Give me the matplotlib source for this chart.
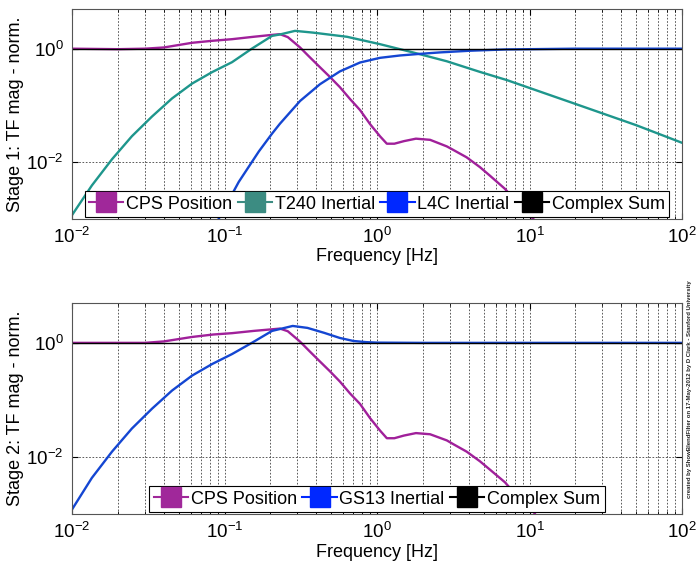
import matplotlib
matplotlib.use("Agg")
import matplotlib.pyplot as plt
from matplotlib.lines import Line2D
from matplotlib.ticker import LogLocator, NullLocator

plt.rcParams['font.family'] = ['Liberation Sans', 'DejaVu Sans']
plt.rcParams['mathtext.default'] = 'regular'

# ---------------- data ----------------
# Stage 1
s1_cps_f = [0.01, 0.02, 0.03, 0.04, 0.0613, 0.084, 0.112, 0.155, 0.205, 0.231, 0.26, 0.29, 0.313, 0.36,
            0.423, 0.49, 0.571, 0.665, 0.774, 0.9, 1.047, 1.16, 1.3, 1.5, 1.8, 2.23, 2.87, 3.16, 3.87,
            4.73, 5.5, 6.9, 8.5, 10.6, 13.0]
s1_cps_v = [1.0, 0.98, 1.0, 1.05, 1.27, 1.38, 1.47, 1.62, 1.75, 1.8, 1.6, 1.25, 1.05, 0.72,
            0.47, 0.32, 0.21, 0.13, 0.083, 0.047, 0.0286, 0.0212, 0.0212, 0.0235, 0.026, 0.0248, 0.019, 0.0165, 0.0122,
            0.0082, 0.0058, 0.0034, 0.0018, 0.001, 0.0005]

s1_t240_f = [0.01, 0.0135, 0.0183, 0.0247, 0.0335, 0.0453, 0.0613, 0.083, 0.112, 0.151, 0.205, 0.231,
             0.29, 0.38, 0.636, 1.047, 1.72, 2.87, 4.73, 7.1, 19.3, 50.0, 100.0]
s1_t240_v = [0.00117, 0.0039, 0.0113, 0.0287, 0.064, 0.133, 0.243, 0.387, 0.578, 1.0, 1.68, 1.78,
             2.06, 1.92, 1.62, 1.2, 0.86, 0.6, 0.39, 0.28, 0.11, 0.045, 0.022]

s1_l4c_f = [0.0915, 0.124, 0.168, 0.205, 0.231, 0.313, 0.423, 0.571, 0.774, 1.047, 1.42, 1.91, 2.59,
            4.07, 7.0, 20.0, 100.0]
s1_l4c_v = [0.001, 0.0045, 0.0155, 0.0319, 0.0477, 0.12, 0.237, 0.398, 0.571, 0.69, 0.76, 0.81, 0.86,
            0.92, 0.97, 1.0, 1.0]

s1_sum_f = [0.01, 100.0]
s1_sum_v = [1.0, 1.0]

# Stage 2
s2_cps_f = [0.01, 0.03, 0.04, 0.0613, 0.084, 0.112, 0.155, 0.205, 0.231, 0.26, 0.29, 0.313, 0.36,
            0.423, 0.49, 0.571, 0.665, 0.774, 0.9, 1.047, 1.16, 1.3, 1.5, 1.8, 2.23, 2.87, 3.16, 3.87,
            4.73, 5.5, 6.9, 8.5, 10.6, 13.0]
s2_cps_v = [1.0, 1.0, 1.06, 1.27, 1.4, 1.48, 1.62, 1.73, 1.78, 1.6, 1.25, 1.05, 0.72,
            0.47, 0.32, 0.21, 0.13, 0.085, 0.048, 0.029, 0.0213, 0.0213, 0.0237, 0.0262, 0.025, 0.0195, 0.0168, 0.0124,
            0.0084, 0.006, 0.0036, 0.0019, 0.0011, 0.0005]

s2_gs13_f = [0.01, 0.0135, 0.0183, 0.0247, 0.0335, 0.0453, 0.0613, 0.083, 0.112, 0.151, 0.205,
             0.28, 0.35, 0.45, 0.57, 0.7, 0.85, 1.0, 2.0, 100.0]
s2_gs13_v = [0.0012, 0.0043, 0.0124, 0.0315, 0.0703, 0.146, 0.267, 0.426, 0.636, 1.0, 1.62,
             1.98, 1.83, 1.5, 1.22, 1.08, 1.03, 1.01, 1.0, 1.0]

s2_sum_f = [0.01, 100.0]
s2_sum_v = [1.0, 1.0]

xtick_vals = [1e-2, 1e-1, 1e0, 1e1, 1e2]
xtick_labels = [r'$10^{-2}$', r'$10^{-1}$', r'$10^{0}$', r'$10^{1}$', r'$10^{2}$']
ytick_vals = [1e-2, 1e0]
ytick_labels = [r'$10^{-2}$', r'$10^{0}$']

# ---------------- style ----------------
c_cps = '#A0209A'
c_t240 = '#1E968C'
c_blue = '#1446D2'
c_sum = '#000000'
leg_cps = '#A0289A'
leg_t240 = '#3C8C82'
leg_blue = '#0028FF'

W, H = 696, 568
fig = plt.figure(figsize=(W / 100, H / 100), dpi=100)

ax1 = fig.add_axes([72 / W, 1 - 219 / H, 610 / W, 210 / H])
ax2 = fig.add_axes([72 / W, 1 - 514 / H, 610 / W, 211 / H])


def style(ax, ylabel):
    ax.set_xscale('log')
    ax.set_yscale('log')
    ax.set_xlim(1e-2, 1e2)
    ax.set_ylim(1e-3, 5)
    ax.set_xticks(xtick_vals)
    ax.set_xticklabels(xtick_labels, fontsize=13.5)
    ax.xaxis.set_minor_locator(LogLocator(base=10, subs=range(2, 10), numticks=20))
    ax.set_yticks(ytick_vals)
    ax.set_yticklabels(ytick_labels, fontsize=13.5)
    ax.yaxis.set_minor_locator(NullLocator())
    ax.grid(True, which='major', axis='both', linestyle=(0, (2, 2)), color='#404040', linewidth=0.6)
    ax.grid(True, which='minor', axis='x', linestyle=(0, (2, 2)), color='#404040', linewidth=0.6)
    ax.tick_params(which='both', direction='in', top=True, right=True, length=4, pad=6)
    ax.tick_params(which='minor', length=2)
    for s in ax.spines.values():
        s.set_color('#555555')
        s.set_linewidth(0.8)
    ax.set_xlabel('Frequency [Hz]', fontsize=13)
    ax.xaxis.set_label_coords(0.5, -0.14)
    ax.set_ylabel(ylabel, fontsize=13)
    ax.yaxis.set_label_coords(-0.078, 0.5)


LW = 1.7
# Stage 1
ax1.plot(s1_cps_f, s1_cps_v, color=c_cps, lw=LW)
ax1.plot(s1_t240_f, s1_t240_v, color=c_t240, lw=LW)
ax1.plot(s1_l4c_f, s1_l4c_v, color=c_blue, lw=LW)
ax1.plot(s1_sum_f, s1_sum_v, color=c_sum, lw=1)
style(ax1, 'Stage 1: TF mag - norm.')

# Stage 2
ax2.plot(s2_cps_f, s2_cps_v, color=c_cps, lw=LW)
ax2.plot(s2_gs13_f, s2_gs13_v, color=c_blue, lw=LW)
ax2.plot(s2_sum_f, s2_sum_v, color=c_sum, lw=1)
style(ax2, 'Stage 2: TF mag - norm.')


def handle(c):
    return Line2D([], [], color=c, lw=1.5, marker='s', markersize=15,
                  markerfacecolor=c, markeredgecolor=c)


leg_kw = dict(loc='lower center', bbox_to_anchor=(0.5, 0.008), fontsize=13, frameon=True,
              fancybox=False, edgecolor='black', framealpha=1, borderaxespad=0,
              handlelength=1.9, handletextpad=0.15, columnspacing=0.3,
              borderpad=0.25, labelspacing=0.2)
l1 = ax1.legend([handle(leg_cps), handle(leg_t240), handle(leg_blue), handle(c_sum)],
                ['CPS Position', 'T240 Inertial', 'L4C Inertial', 'Complex Sum'], ncol=4, **leg_kw)
l1.get_frame().set_linewidth(0.8)
l2 = ax2.legend([handle(leg_cps), handle(leg_blue), handle(c_sum)],
                ['CPS Position', 'GS13 Inertial', 'Complex Sum'], ncol=3, **leg_kw)
l2.get_frame().set_linewidth(0.8)

fig.text(0.991, 1 - 389 / H,
         'created by ShowBlendFilter on 17-May-2012 by D Clark - Stanford University',
         rotation=90, fontsize=4.3, fontweight='bold', ha='center', va='center', color='#222222')

fig.savefig('out.png', dpi=100)
